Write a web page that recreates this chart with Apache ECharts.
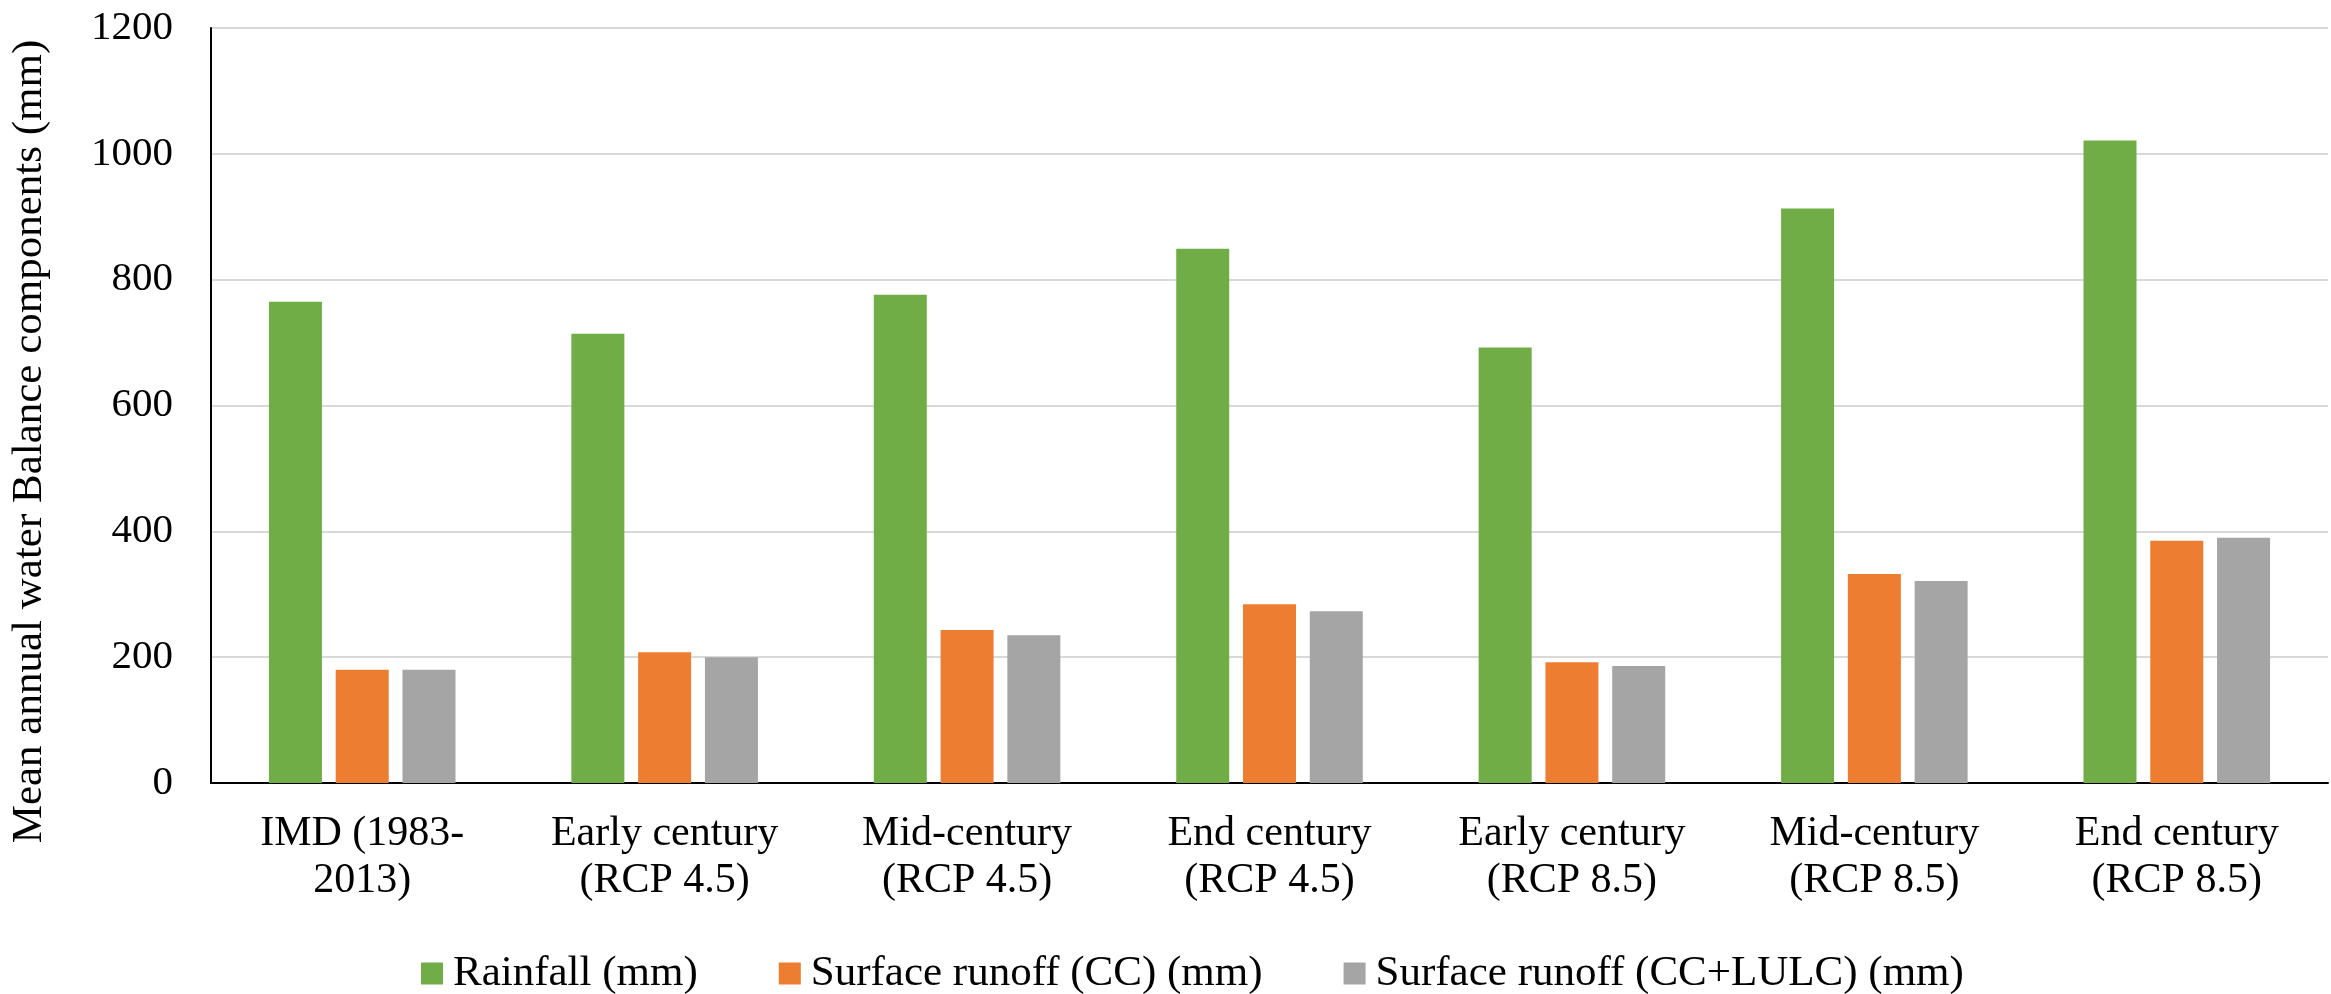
<!DOCTYPE html>
<html>
<head>
<meta charset="utf-8">
<title>Mean annual water balance components</title>
<script src="https://cdn.jsdelivr.net/npm/echarts@6/dist/echarts.min.js"></script>
<style>
  html, body { margin: 0; padding: 0; background: #ffffff; }
  #chart { width: 2331px; height: 994px; }
</style>
</head>
<body>
<div id="chart"></div>
<script>
// Periods / scenarios on the category axis
const categories = [
  'IMD (1983-\n2013)',
  'Early century\n(RCP 4.5)',
  'Mid-century\n(RCP 4.5)',
  'End century\n(RCP 4.5)',
  'Early century\n(RCP 8.5)',
  'Mid-century\n(RCP 8.5)',
  'End century\n(RCP 8.5)'
];

// Mean annual values (mm)
const rainfall       = [765, 714, 776, 849, 692, 913, 1021];
const runoffCC       = [180, 208, 243, 284, 192, 332, 385];
const runoffCCLULC   = [180, 200, 235, 273, 186, 321, 390];

const seriesNames = ['Rainfall (mm)', 'Surface runoff (CC) (mm)', 'Surface runoff (CC+LULC) (mm)'];
const colors = ['#70AD47', '#ED7D31', '#A5A5A5'];

const serif = 'Liberation Serif';

const chart = echarts.init(document.getElementById('chart'), null, { renderer: 'canvas' });

function bar(name, data, color) {
  return {
    name: name,
    type: 'bar',
    data: data,
    barWidth: 53,
    barGap: '26%',
    itemStyle: { color: color }
  };
}

chart.setOption({
  animation: false,
  backgroundColor: '#ffffff',
  textStyle: { fontFamily: serif },
  grid: { left: 210, right: 3, top: 28, bottom: 211, containLabel: false },
  legend: {
    left: 421,
    top: 952,
    padding: 0,
    itemWidth: 22,
    itemHeight: 22,
    itemGap: 81,
    icon: 'rect',
    textStyle: { fontFamily: serif, fontSize: 43, color: '#000', padding: [0, 0, 0, 5] },
    data: seriesNames
  },
  xAxis: {
    type: 'category',
    data: categories,
    axisLine: { show: true, lineStyle: { color: '#000', width: 2 } },
    axisTick: { show: false },
    axisLabel: {
      fontFamily: serif,
      fontSize: 42,
      color: '#000',
      lineHeight: 47,
      margin: 27,
      interval: 0
    }
  },
  yAxis: {
    type: 'value',
    min: 0,
    max: 1200,
    interval: 200,
    name: 'Mean annual water Balance components (mm)',
    nameLocation: 'middle',
    nameGap: 160,
    nameTextStyle: { fontFamily: serif, fontSize: 43, color: '#000', padding: [0, 72, 0, 0] },
    axisLine: { show: true, lineStyle: { color: '#000', width: 2 } },
    axisTick: { show: false },
    axisLabel: {
      fontFamily: serif, fontSize: 41, color: '#000', margin: 38,
      formatter: function (v) { return String(v); }
    },
    splitLine: { show: true, lineStyle: { color: '#d9d9d9', width: 2 } }
  },
  series: [
    bar(seriesNames[0], rainfall, colors[0]),
    bar(seriesNames[1], runoffCC, colors[1]),
    bar(seriesNames[2], runoffCCLULC, colors[2])
  ]
});
</script>
</body>
</html>
